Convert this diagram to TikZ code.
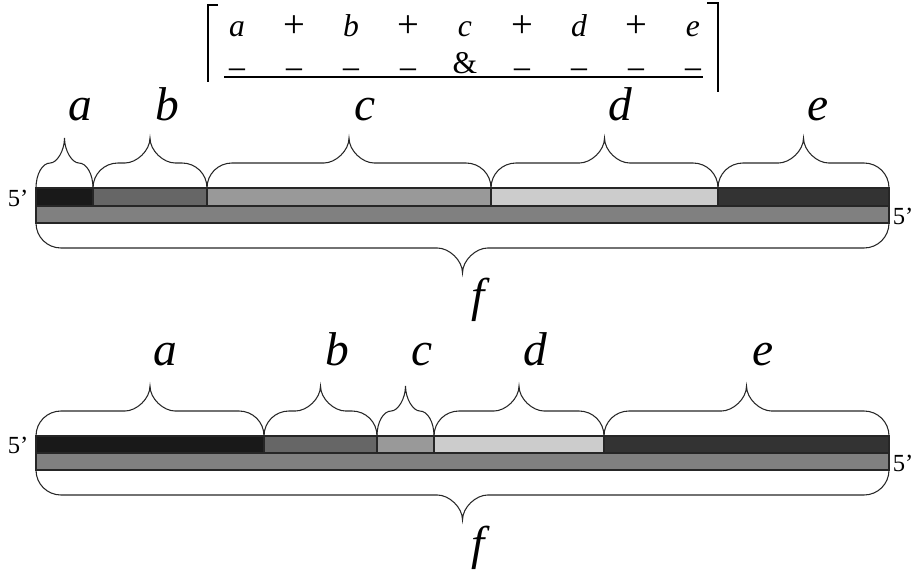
\documentclass[tikz,border=0pt]{standalone}
\usepackage{fontspec}
\setmainfont{Liberation Serif}
\usetikzlibrary{positioning}

% brace over a segment: x1, x2, base y, direction (1 = up, -1 = down)
\newcommand{\segbrace}[4]{%
  \pgfmathsetmacro{\sbR}{min(25,(#2-#1)/4)}
  \pgfmathsetmacro{\sbM}{(#1+#2)/2}
  \pgfmathsetmacro{\sbA}{#3-25*(#4)}
  \pgfmathsetmacro{\sbT}{#3-50*(#4)}
  \pgfmathsetmacro{\sbC}{#3-14*(#4)}
  \pgfmathsetmacro{\sbD}{\sbA-12*(#4)}
  \draw[bracel] (#1,#3) .. controls (#1,\sbC) and ({#1+0.45*\sbR},\sbA) .. ({#1+\sbR},\sbA)
    -- ({\sbM-\sbR},\sbA) .. controls ({\sbM-0.55*\sbR},\sbA) and (\sbM,\sbD) .. (\sbM,\sbT)
    .. controls (\sbM,\sbD) and ({\sbM+0.55*\sbR},\sbA) .. ({\sbM+\sbR},\sbA)
    -- ({#2-\sbR},\sbA) .. controls ({#2-0.45*\sbR},\sbA) and (#2,\sbC) .. (#2,#3);
}

\begin{document}
\begin{tikzpicture}[x=0.02cm,y=-0.02cm,
    seg/.style={draw=black!85,line width=0.7pt},
    bracel/.style={draw=black!85,line width=0.6pt},
    lbl/.style={font=\fontsize{27}{30}\selectfont\itshape,anchor=base,inner sep=0pt},
    cell/.style={font=\fontsize{18}{21}\selectfont,anchor=base,inner sep=0pt},
    prime/.style={font=\fontsize{14}{16}\selectfont,inner sep=0pt},
    brk/.style={line width=1.6pt}]
    \useasboundingbox (0,0) rectangle (916,571);

    % header
    \foreach \t [count=\i from 0] in {a,b,c,d,e}
        \node[cell,font=\fontsize{18}{21}\selectfont\itshape] (m\t) at ({237+114*\i},37) {\t};
    \foreach \i in {0,...,3}
        \node[cell,font=\fontsize{22}{24}\selectfont] (p\i) at ({294+114*\i},38) {+};
    \foreach \i in {0,1,2,3,5,6,7,8}
        \node[cell,font=\fontsize{20}{22}\selectfont] (q\i) at ({237+57*\i},82) {−};
    \node[cell] (amp) at (465,74) {\&};
    \draw[line width=1.1pt] (224,77) -- (703,77);
    \draw[brk] (218,5) -- (208,5) -- (208,82);
    \draw[brk] (707,3) -- (718,3) -- (718,92);

    % first strand pair
    \foreach \xa/\xb/\shade in {36/93/90,93/207/60,207/491/40,491/718/20,718/889/80}
        \draw[seg,fill=black!\shade] (\xa,188) rectangle (\xb,206);
    \draw[seg,fill=black!50] (36,206) rectangle (889,223);
    \node[prime] (l1) at (18,198) {5'};
    \node[prime] (r1) at (903,216) {5'};
    \segbrace{36}{93}{188}{1}
    \segbrace{93}{207}{188}{1}
    \segbrace{207}{491}{188}{1}
    \segbrace{491}{718}{188}{1}
    \segbrace{718}{889}{188}{1}
    \segbrace{36}{889}{223}{-1}
    \node[lbl] (ta) at (80,120) {a};
    \node[lbl] (tb) at (167,120) {b};
    \node[lbl] (tc) at (365,120) {c};
    \node[lbl] (td) at (620,120) {d};
    \node[lbl] (te) at (818,120) {e};
    \node[lbl,anchor=center] (tf) at (478,300) {f};

    % second strand pair
    \foreach \xa/\xb/\shade in {36/264/90,264/377/60,377/434/40,434/604/20,604/889/80}
        \draw[seg,fill=black!\shade] (\xa,436) rectangle (\xb,453);
    \draw[seg,fill=black!50] (36,453) rectangle (889,470);
    \node[prime] (l2) at (18,445) {5'};
    \node[prime] (r2) at (903,463) {5'};
    \segbrace{36}{264}{436}{1}
    \segbrace{264}{377}{436}{1}
    \segbrace{377}{434}{436}{1}
    \segbrace{434}{604}{436}{1}
    \segbrace{604}{889}{436}{1}
    \segbrace{36}{889}{470}{-1}
    \node[lbl] (ba) at (165,365) {a};
    \node[lbl] (bb) at (337,365) {b};
    \node[lbl] (bc) at (422,365) {c};
    \node[lbl] (bd) at (535,365) {d};
    \node[lbl] (be) at (763,365) {e};
    \node[lbl,anchor=center] (bf) at (478,548) {f};
\end{tikzpicture}
\end{document}
